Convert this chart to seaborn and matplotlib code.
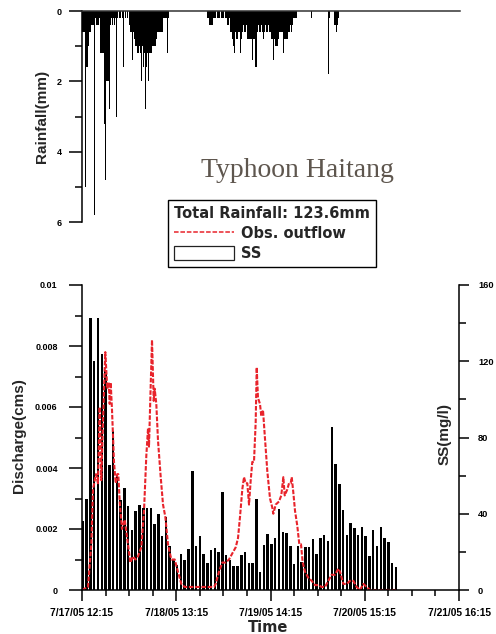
import numpy as np
import pandas as pd
import matplotlib
matplotlib.use("Agg")
import matplotlib.pyplot as plt
import seaborn as sns
from matplotlib.patches import Patch
from matplotlib.lines import Line2D
from matplotlib.font_manager import FontProperties

# ---------------- data ----------------
time_labels = ["7/17/05 12:15", "7/18/05 13:15", "7/19/05 14:15",
               "7/20/05 15:15", "7/21/05 16:15"]
tick_hours = [0, 25, 50, 75, 100]          # hours after 7/17/05 12:15

# rainfall, 15-minute intervals (index of interval after start), mm
rain_q = [0, 1, 2, 3, 4, 5, 6, 7, 8, 9,
          10, 11, 12, 13, 14, 15, 16, 17, 18, 19,
          20, 21, 22, 23, 24, 25, 26, 27, 28, 29,
          30, 31, 32, 33, 34, 35, 36, 37, 38,
          40, 41, 43, 44, 46, 48,
          50, 51, 52, 53, 54, 55, 56, 57, 58, 59,
          60, 61, 62, 63, 64, 65, 66, 67, 68, 69,
          70, 71, 72, 73, 74, 75, 76, 77, 78, 79,
          80, 81, 82, 83, 84, 85, 86, 87, 88, 89,
          90, 91, 92,
          133, 134, 135, 136, 137, 138, 139, 140, 141, 143,
          144, 145, 146, 148, 149, 150, 152, 153, 154, 155,
          156, 157, 158, 159, 160, 161, 162, 163, 164, 165,
          166, 167, 168, 169, 170, 171, 172, 173, 174, 175,
          176, 177, 178, 179, 180, 181, 182, 183, 184, 185,
          186, 187, 188, 189, 190, 191, 192, 193, 194, 195,
          196, 197, 198, 199, 200, 201, 202, 203, 204, 205,
          206, 207, 208, 209, 210, 211, 212, 213, 214, 215,
          216, 217, 218, 219, 220, 221, 222, 223, 224, 225,
          226, 227,
          243, 261, 262, 267, 268, 269, 270, 271]
rain_mm = [0.4, 0.6, 0.6, 0.6, 5.0, 1.6, 1.6, 1.0, 0.6, 0.6,
           0.4, 0.4, 0.4, 5.8, 0.2, 0.4, 0.4, 0.4, 0.2, 0.2,
           1.2, 1.2, 1.2, 1.2, 3.2, 4.8, 2.0, 2.0, 2.0, 2.8,
           0.4, 0.2, 0.4, 0.2, 0.4, 0.2, 0.6, 3.0, 0.2,
           0.2, 0.2, 0.2, 1.6, 0.2, 0.2,
           0.4, 0.6, 0.6, 1.4, 0.6, 1.0, 0.8, 1.0, 1.0, 1.2,
           1.2, 1.0, 1.2, 2.0, 1.0, 1.6, 1.2, 2.8, 1.6, 1.2,
           2.0, 1.2, 1.2, 3.2, 1.2, 1.0, 1.0, 1.0, 1.0, 0.8,
           0.6, 0.6, 0.6, 0.6, 0.6, 0.6, 0.2, 0.2, 0.2, 0.2,
           1.2, 0.2, 0.2,
           0.2, 0.2, 0.4, 0.4, 0.4, 0.4, 0.2, 0.2, 0.2, 0.2,
           0.2, 0.2, 0.2, 0.2, 0.2, 0.2, 0.2, 0.2, 0.4, 0.4,
           0.2, 0.6, 0.6, 0.8, 1.0, 1.2, 0.6, 0.8, 0.6, 0.8,
           0.6, 0.6, 1.2, 0.8, 0.6, 0.4, 0.6, 0.6, 0.4, 0.8,
           0.8, 0.8, 0.8, 0.8, 1.4, 0.8, 1.4, 0.8, 1.6, 1.6,
           0.6, 0.4, 0.6, 0.6, 0.4, 0.6, 0.8, 0.6, 0.4, 0.6,
           0.6, 0.4, 0.6, 0.6, 0.8, 0.8, 0.8, 1.4, 0.8, 1.0,
           1.0, 1.0, 0.8, 0.6, 0.6, 0.6, 0.6, 1.2, 0.8, 0.8,
           0.8, 0.8, 0.8, 0.6, 0.6, 0.4, 0.6, 0.4, 0.2, 0.2,
           0.2, 0.2,
           0.2, 1.8, 0.2, 0.4, 0.4, 0.6, 0.4, 0.2]

# suspended sediment, hourly samples starting 7/17/05 12:30 (mg/l)
ss_first_hour = 0.25
ss_mgl = [36, 47.7, 142.7, 120, 142.7, 123.8, 115, 65.6, 83.4, 59.8,
          47.2, 53.5, 44, 31.5, 41.5, 44.6, 43, 43, 43, 34.6,
          39.9, 28.3, 38.3, 23, 16, 13, 18.8, 16, 21.5, 62.4,
          23, 28.3, 18.9, 14.2, 20.8, 22, 20, 51.4, 18.4, 15.7,
          12.6, 12.6, 18.4, 20, 14, 14, 48, 9.4, 23.6, 29.4,
          24, 27.3, 42.5, 30.4, 30, 23, 13.6, 23, 14.7, 22.6,
          22.6, 26.8, 19, 27.3, 28.8, 25.7, 85.5, 66, 55.6, 41.8,
          28.8, 35, 32.7, 28.9, 33, 28.3, 17.8, 31.5, 23, 33,
          27.3, 25, 14.2, 12]
ss_hours = ss_first_hour + np.arange(len(ss_mgl))

# observed outflow (cms)
q_hours = [0.0, 1.59, 2.47, 2.92, 3.71, 4.24, 4.69, 5.12, 5.57, 6.18,
           6.71, 7.08, 7.35, 7.61, 7.96, 8.49, 8.94, 9.36, 9.63, 10.0,
           10.61, 11.33, 12.2, 12.81, 13.53, 14.14, 14.85, 15.73, 16.45, 17.06,
           17.51, 17.77, 18.22, 18.57, 19.02, 19.28, 19.71, 20.16, 20.88, 21.49,
           22.1, 22.81, 23.69, 24.59, 25.46, 26.34, 27.24, 31.3, 35.01, 35.46,
           36.34, 37.21, 38.12, 38.99, 39.87, 40.77, 41.38, 41.91, 42.52, 42.97,
           43.42, 43.85, 44.30, 44.75, 45.17, 45.62, 46.07, 46.34, 46.68, 47.21,
           47.56, 48.01, 48.46, 49.15, 49.87, 50.48, 50.74, 51.38, 52.25, 52.86,
           53.40, 53.77, 54.46, 54.91, 55.36, 55.63, 56.05, 56.50, 57.11, 57.64,
           58.09, 58.54, 59.15, 60.03, 60.93, 61.80, 62.68, 63.58, 64.46, 65.33,
           66.23, 67.11, 67.98, 68.44, 69.31, 70.21, 71.09, 71.96, 72.86, 73.74,
           74.62, 75.52, 76.39, 79.05, 83.55]
q_cms = [0.0, 0.0001, 0.0015, 0.0033, 0.0038, 0.0035, 0.0060, 0.0036, 0.0055, 0.0078,
         0.0066, 0.0068, 0.0061, 0.0068, 0.0059, 0.0042, 0.0035, 0.0038, 0.0038, 0.0029,
         0.0020, 0.0023, 0.0015, 0.0009, 0.0011, 0.0010, 0.0011, 0.0014, 0.0026, 0.0044,
         0.0053, 0.0047, 0.0067, 0.0082, 0.0062, 0.0066, 0.0061, 0.0049, 0.0037, 0.0028,
         0.0024, 0.0015, 0.0010, 0.0010, 0.0006, 0.0002, 0.0001, 0.0001, 0.0001, 0.0002,
         0.0006, 0.0009, 0.0009, 0.0010, 0.0012, 0.0014, 0.0017, 0.0024, 0.0033, 0.0037,
         0.0035, 0.0035, 0.0028, 0.0036, 0.0042, 0.0042, 0.0055, 0.0073, 0.0063, 0.0061,
         0.0057, 0.0059, 0.0051, 0.0039, 0.0030, 0.0027, 0.0025, 0.0028, 0.0029, 0.0031,
         0.0037, 0.0031, 0.0033, 0.0035, 0.0035, 0.0037, 0.0032, 0.0026, 0.0021, 0.0015,
         0.0015, 0.0009, 0.0006, 0.0004, 0.0003, 0.00016, 0.00016, 0.0001, 0.0001, 0.0003,
         0.0005, 0.0005, 0.0007, 0.0006, 0.0002, 0.0002, 0.0003, 0.0003, 0.0001, 0.0,
         0.0002, 0.0001, 0.0, 0.0, 0.0]

total_rain_text = "Total Rainfall: 123.6mm"
title_text = "Typhoon Haitang"

# ---------------- style ----------------
sns.set_theme(style="ticks")
plt.rcParams['font.family'] = ['Liberation Sans', 'DejaVu Sans']
plt.rcParams['font.weight'] = 'bold'
plt.rcParams['axes.edgecolor'] = 'black'
plt.rcParams['axes.linewidth'] = 1.1
plt.rcParams['xtick.color'] = 'black'
plt.rcParams['ytick.color'] = 'black'

RED = '#e8232b'
W, H = 496, 634
fig = plt.figure(figsize=(W / 100, H / 100), dpi=100)
ax_r = fig.add_axes([82 / W, 1 - 222 / H, 378 / W, 211 / H])
ax_q = fig.add_axes([82 / W, 1 - 590 / H, 377 / W, 305 / H])
ax_s = ax_q.twinx()

# ---- rainfall (top) ----
rain_hours = np.array(rain_q) * 0.25
sns.barplot(x=rain_hours, y=rain_mm, native_scale=True, width=1.0,
            color='black', saturation=1, errorbar=None, linewidth=0,
            ax=ax_r)
ax_r.set_xlim(0, 100)
ax_r.set_ylim(6, 0)
for s in ['right', 'bottom']:
    ax_r.spines[s].set_visible(False)
ax_r.spines['top'].set_color('#333333')
ax_r.set_xticks([])
ax_r.set_yticks([0, 2, 4, 6])
ax_r.set_yticklabels(['0', '2', '4', '6'])
ax_r.set_yticks([1, 3, 5], minor=True)
ax_r.tick_params(axis='y', which='major', left=True, length=9.5, width=1.1,
                 direction='out', pad=5, labelsize=6.5)
ax_r.tick_params(axis='y', which='minor', left=True, length=5, width=1.1,
                 direction='out')
ax_r.set_xlabel('')
ax_r.set_ylabel('')

# ---- SS bars (right axis) ----
sns.barplot(x=ss_hours, y=ss_mgl, native_scale=True, width=0.66,
            color='black', saturation=1, errorbar=None, linewidth=0,
            ax=ax_s)

# ---- discharge line ----
sns.lineplot(x=q_hours, y=q_cms, ax=ax_q, color=RED, lw=1.5,
             linestyle=(0, (2.2, 0.8)), estimator=None, sort=True)
ax_q.set_zorder(ax_s.get_zorder() + 1)
ax_q.patch.set_visible(False)

ax_q.set_xlim(0, 100)
ax_q.set_ylim(0, 0.01)
ax_s.set_ylim(0, 160)

ax_q.spines['top'].set_visible(False)
ax_q.spines['right'].set_visible(False)
for s in ['top', 'left', 'bottom']:
    ax_s.spines[s].set_visible(False)

ax_q.set_yticks([0, 0.002, 0.004, 0.006, 0.008, 0.01])
ax_q.set_yticklabels(['0', '0.002', '0.004', '0.006', '0.008', '0.01'])
ax_q.set_yticks([0.001, 0.003, 0.005, 0.007, 0.009], minor=True)
ax_q.tick_params(axis='y', which='major', left=True, length=9.5, width=1.1,
                 direction='out', pad=8, labelsize=6.5)
ax_q.tick_params(axis='y', which='minor', left=True, length=5, width=1.1,
                 direction='out')

ax_q.set_xticks(tick_hours)
ax_q.set_xticklabels(time_labels)
ax_q.set_xticks(np.arange(0, 100.1, 6.25), minor=True)
ax_q.tick_params(axis='x', which='major', bottom=True, length=8, width=1.1,
                 direction='out', pad=5, labelsize=7.4)
ax_q.tick_params(axis='x', which='minor', bottom=True, length=4.3, width=1.1,
                 direction='out')

ax_s.set_yticks([0, 40, 80, 120, 160])
ax_s.set_yticklabels(['0', '40', '80', '120', '160'])
ax_s.set_yticks([20, 60, 100, 140], minor=True)
ax_s.tick_params(axis='y', which='major', right=True, left=False, length=7.2,
                 width=1.1, direction='out', pad=6.5, labelsize=6.7)
ax_s.tick_params(axis='y', which='minor', right=True, left=False, length=4.8,
                 width=1.1, direction='out')

for a in (ax_q, ax_s):
    a.set_xlabel('')
    a.set_ylabel('')

# ---- labels ----
fig.text(42.5 / W, 1 - 116.5 / H, 'Rainfall(mm)', rotation=90, ha='center',
         va='center', fontsize=11, fontweight='bold')
fig.text(19.5 / W, 1 - 436 / H, 'Discharge(cms)', rotation=90, ha='center',
         va='center', fontsize=11, fontweight='bold')
fig.text(444.5 / W, 1 - 434 / H, 'SS(mg/l)', rotation=90, ha='center',
         va='center', fontsize=11, fontweight='bold')
fig.text(268 / W, 1 - 632 / H, 'Time', ha='center', va='baseline',
         fontsize=10.5, fontweight='bold', family='DejaVu Sans')
fig.text(297.5 / W, 1 - 177 / H, title_text, ha='center', va='baseline',
         fontsize=20, fontweight='normal', family='Liberation Serif',
         color='#5e564e')

# ---- legend ----
leg_font = FontProperties(family='DejaVu Sans', weight='bold', size=10.5)
handles = [Line2D([], [], color=RED, lw=1.1, linestyle=(0, (3, 1.2))),
           Patch(facecolor='white', edgecolor='#222222', lw=0.9)]
leg = fig.legend(handles, ['Obs. outflow', 'SS'], title=total_rain_text,
                 loc='upper left', bbox_to_anchor=(168 / W, 1 - 200 / H),
                 bbox_transform=fig.transFigure, frameon=True, fancybox=False,
                 edgecolor='black', framealpha=1, borderaxespad=0,
                 prop=leg_font, title_fontproperties=leg_font,
                 handlelength=4.1, handleheight=1.15, handletextpad=0.5,
                 labelspacing=0.32, borderpad=0.42, alignment='left')
leg.get_frame().set_linewidth(1.0)

fig.savefig('out.png', dpi=100)
